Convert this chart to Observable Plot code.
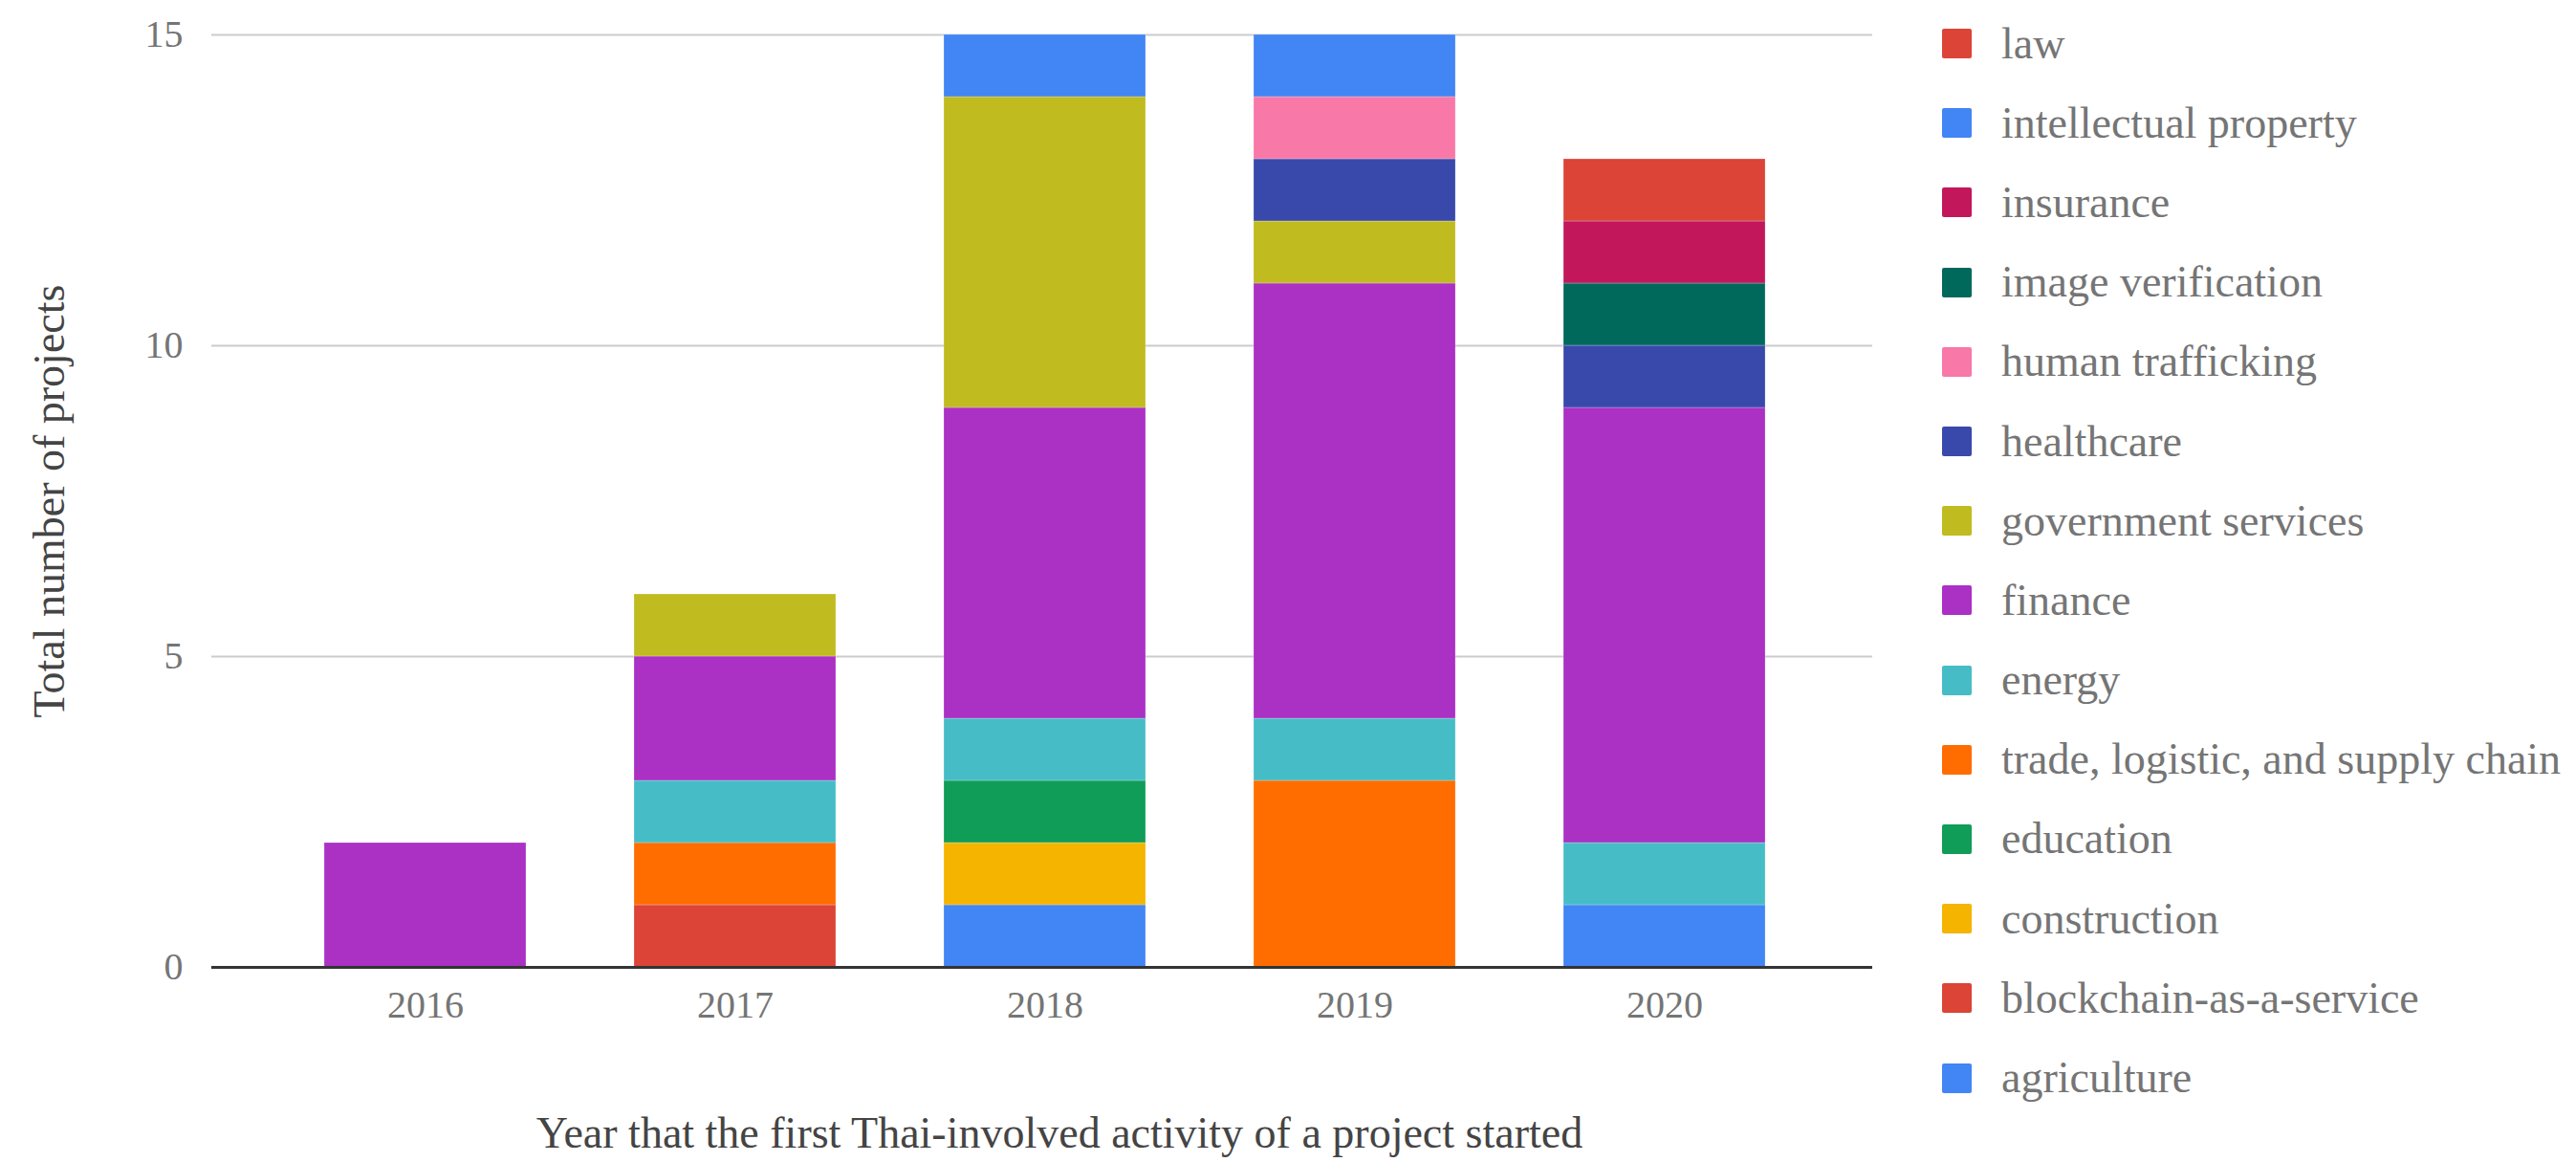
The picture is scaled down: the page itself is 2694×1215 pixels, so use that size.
<!DOCTYPE html>
<html>
<head>
<meta charset="utf-8">
<script src="https://cdn.jsdelivr.net/npm/d3@7"></script>
<script src="https://cdn.jsdelivr.net/npm/@observablehq/plot@0.6"></script>
<style>
  html, body { margin: 0; padding: 0; background: #fff; }
  #wrap { position: relative; width: 2694px; height: 1215px; font-family: "Liberation Serif", "Times New Roman", serif; }
  #wrap svg { position: absolute; left: 0; top: 0; }
  .title { position: absolute; white-space: nowrap; color: #444; font-size: 46px; line-height: 1; }
  #legend { position: absolute; left: 2031px; top: 4px; }
  .item { display: flex; align-items: center; height: 83.2px; }
  .sw { width: 31px; height: 31px; border-radius: 2px; margin-right: 31px; flex: none; }
  .lab { font-size: 46px; color: #757575; white-space: nowrap; line-height: 1; }
</style>
</head>
<body>
<div id="wrap">
  <div class="title" id="ytitle" style="left:52px; top:524px; transform: translate(-50%,-50%) rotate(-90deg);">Total number of projects</div>
  <div class="title" id="xtitle" style="left:1108px; top:1185px; transform: translate(-50%,-50%);">Year that the first Thai-involved activity of a project started</div>
  <div id="legend"></div>
</div>
<script>
const years = ["2016", "2017", "2018", "2019", "2020"];
const categories = [
  "agriculture",
  "blockchain-as-a-service",
  "construction",
  "education",
  "trade, logistic, and supply chain",
  "energy",
  "finance",
  "government services",
  "healthcare",
  "human trafficking",
  "image verification",
  "insurance",
  "intellectual property",
  "law"
];
const colors = [
  "#4285F4", "#DB4437", "#F4B400", "#0F9D58", "#FF6D01", "#46BDC6", "#AB30C4",
  "#C0BB1F", "#3949AB", "#F878A8", "#00695C", "#C2185B", "#4285F4", "#DB4437"
];
const yTicks = [0, 5, 10, 15];

// counts per year (2016..2020)
const agriculture          = [0, 0, 1, 0, 1];
const blockchainService    = [0, 1, 0, 0, 0];
const construction         = [0, 0, 1, 0, 0];
const education            = [0, 0, 1, 0, 0];
const tradeLogistic        = [0, 1, 0, 3, 0];
const energy               = [0, 1, 1, 1, 1];
const finance              = [2, 2, 5, 7, 7];
const governmentServices   = [0, 1, 5, 1, 0];
const healthcare           = [0, 0, 0, 1, 1];
const humanTrafficking     = [0, 0, 0, 1, 0];
const imageVerification    = [0, 0, 0, 0, 1];
const insurance            = [0, 0, 0, 0, 1];
const intellectualProperty = [0, 0, 1, 1, 0];
const law                  = [0, 0, 0, 0, 1];

const series = [agriculture, blockchainService, construction, education, tradeLogistic, energy,
  finance, governmentServices, healthcare, humanTrafficking, imageVerification, insurance,
  intellectualProperty, law];

const table = [];
series.forEach((vals, i) => vals.forEach((v, j) => {
  if (v > 0) table.push({year: years[j], category: categories[i], count: v});
}));

const chart = Plot.plot({
  width: 2694,
  height: 1215,
  marginLeft: 221,
  marginRight: 736,
  marginTop: 36,
  marginBottom: 204,
  style: {fontFamily: "'Liberation Serif', 'Times New Roman', serif", background: "transparent", overflow: "visible"},
  x: {domain: years, paddingInner: 0.35, paddingOuter: 0.175, insetLeft: 61, insetRight: 55, label: null},
  y: {domain: [0, 15], label: null},
  color: {domain: categories, range: colors},
  marks: [
    Plot.gridY(yTicks, {stroke: "#cccccc", strokeOpacity: 1, strokeWidth: 2}),
    Plot.barY(table, {x: "year", y: "count", fill: "category", z: "category", order: categories,
      stroke: "white", strokeOpacity: 0.25, strokeWidth: 1}),
    Plot.ruleY([0], {stroke: "#333333", strokeWidth: 3}),
    Plot.axisY(yTicks, {tickSize: 0, tickPadding: 30, fontSize: 40, fill: "#757575", label: null, tickFormat: d3.format("d")}),
    Plot.axisX({tickSize: 0, tickPadding: 24, fontSize: 40, fill: "#757575", label: null})
  ]
});
document.getElementById("wrap").prepend(chart);

const legend = document.getElementById("legend");
for (let i = categories.length - 1; i >= 0; i--) {
  const row = document.createElement("div");
  row.className = "item";
  const sw = document.createElement("div");
  sw.className = "sw";
  sw.style.background = colors[i];
  const lab = document.createElement("div");
  lab.className = "lab";
  lab.textContent = categories[i];
  row.append(sw, lab);
  legend.append(row);
}
</script>
</body>
</html>
